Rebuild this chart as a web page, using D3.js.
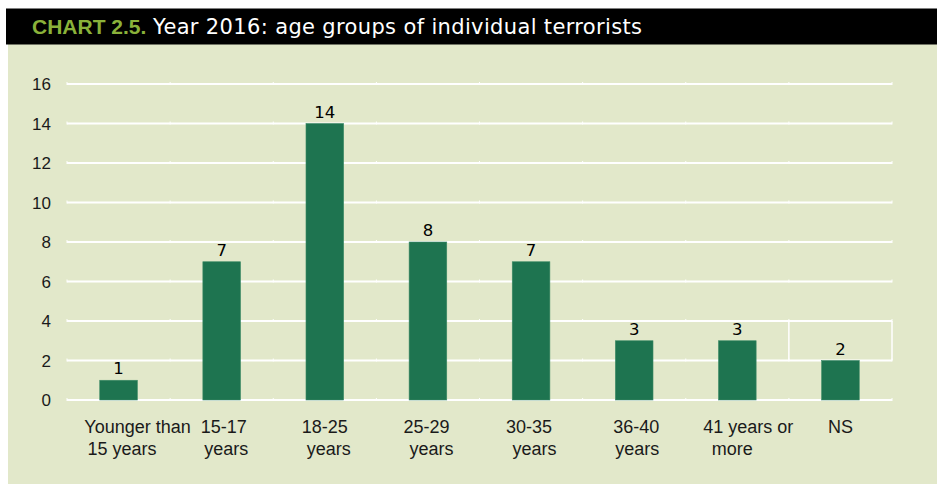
<!DOCTYPE html>
<html><head><meta charset="utf-8">
<script src="https://cdn.jsdelivr.net/npm/d3@7"></script>
<style>body{margin:0;background:#fff}svg{display:block}</style>
</head><body>
<script>
const categories = [["Younger than","15 years"],["15-17","years"],["18-25","years"],["25-29","years"],["30-35","years"],["36-40","years"],["41 years or","more"],["NS"]];
const values = [1,7,14,8,7,3,3,2];
const yTicks = [0,2,4,6,8,10,12,14,16];
const titleLead = "CHART 2.5.";
const titleRest = "Year 2016: age groups of individual terrorists";

const W=937,H=485;
const svg=d3.select("body").append("svg").attr("width",W).attr("height",H);
svg.append("rect").attr("x",8).attr("y",44).attr("width",W-8).attr("height",440).attr("fill","#e2e8ca");
svg.append("rect").attr("x",6).attr("y",8.5).attr("width",W-6).attr("height",36).attr("fill","#000");
svg.append("text").attr("x",32).attr("y",34).text(titleLead).attr("fill","#8ab23a")
 .attr("font-family","'Liberation Sans',Arial,sans-serif").attr("font-weight","bold").attr("font-size",21);
svg.append("text").attr("x",153).attr("y",34).text(titleRest).attr("fill","#fff")
 .attr("font-family","'DejaVu Sans',Verdana,sans-serif").attr("font-size",21).attr("textLength",489).attr("lengthAdjust","spacing");

const x=d3.scaleBand().domain(d3.range(categories.length)).range([67,892]).paddingInner(0.635).paddingOuter(0.3175);
const y=d3.scaleLinear().domain([0,16]).range([400,84]);

// gridlines
const g=svg.append("g");
g.selectAll("line.grid").data(yTicks).join("line")
 .attr("x1",67).attr("x2",892).attr("y1",d=>y(d)).attr("y2",d=>y(d))
 .attr("stroke","#fff").attr("stroke-width",1.8);
// band boundary tick marks
const step=x.step();
const bounds=d3.range(categories.length+1).map(i=>67+i*step);
yTicks.forEach(v=>{
  g.selectAll(null).data(bounds).join("line")
   .attr("x1",d=>d).attr("x2",d=>d).attr("y1",y(v)-2).attr("y2",y(v)+1)
   .attr("stroke","#fff").attr("stroke-width",1);
});
// artifact box around NS
[bounds[7],bounds[8]].forEach(bx=>{
  g.append("line").attr("x1",bx).attr("x2",bx).attr("y1",y(4)).attr("y2",y(2)).attr("stroke","#fff").attr("stroke-width",1.5);
});

// y axis labels
svg.selectAll("text.yt").data(yTicks).join("text")
 .attr("x",51).attr("y",d=>y(d)+6).attr("text-anchor","end")
 .attr("font-family","'Liberation Sans',Arial,sans-serif").attr("font-size",17).attr("fill","#1a1a1a")
 .text(d=>d);

// bars
svg.selectAll("rect.bar").data(values).join("rect")
 .attr("x",(d,i)=>x(i)).attr("width",x.bandwidth())
 .attr("y",d=>y(d)).attr("height",d=>y(0)-y(d))
 .attr("fill","#1e7450").attr("stroke","#3d8a66").attr("stroke-width",0.6);

// value labels
svg.selectAll("text.val").data(values).join("text")
 .attr("x",(d,i)=>x(i)+x.bandwidth()/2).attr("y",d=>y(d)-6)
 .attr("text-anchor","middle").attr("font-family","'DejaVu Sans',Verdana,sans-serif").attr("font-size",16.5).attr("fill","#000")
 .text(d=>d);

// x labels
const offs=[[19,3.5],[2,4.5],[0,4],[-1.5,3.5],[-2,3.5],[2,3],[11,-5],[0,0]];
categories.forEach((lines,i)=>{
  const cx=x(i)+x.bandwidth()/2;
  lines.forEach((s,j)=>{
    svg.append("text").attr("x",cx+offs[i][j]).attr("y",433+j*21.5).attr("text-anchor","middle")
     .attr("font-family","'Liberation Sans',Arial,sans-serif").attr("font-size",18).attr("fill","#1a1a1a").text(s);
  });
});
</script>
</body></html>
